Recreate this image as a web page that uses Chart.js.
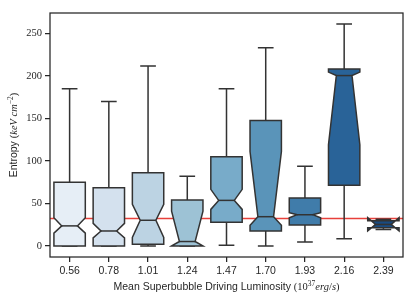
<!DOCTYPE html>
<html>
<head>
<meta charset="utf-8">
<script src="https://cdn.jsdelivr.net/npm/chart.js@4/dist/chart.umd.min.js"></script>
<style>
  html, body { margin: 0; padding: 0; background: #fff; }
  #wrap { width: 416px; height: 301px; }
</style>
</head>
<body>
<div id="wrap"><canvas id="entropyChart" width="416" height="301"></canvas></div>
<script>
// Mean superbubble driving luminosity bins (10^37 erg/s)
const luminosity = ["0.56", "0.78", "1.01", "1.24", "1.47", "1.70", "1.93", "2.16", "2.39"];

// box plot stats per bin (entropy, keV cm^-2)
const whiskerLow  = [0,     0,     0,     0,    0.8,   0,     4.7,   8.6,   19.4];
const q1          = [0,     0,     2,     0,    28,    17.6,  24.6,  71.5,  21.5];
const notchLow    = [15,    9.5,   10,    0,    43,    24.3,  33.2,  119,   17.6];
const median      = [23.6,  17.6,  30.2,  5.2,  53.6,  34.4,  36.7,  200.4, 25.3];
const notchHigh   = [33.2,  26.6,  49,    41,   66.6,  111,   39.1,  204.5, 33.2];
const q3          = [75,    68.4,  86,    53.9, 104.8, 147.7, 56.3,  208.2, 29.6];
const whiskerHigh = [184.8, 169.9, 211.7, 82,   184.8, 233.2, 93.8,  261,   31.4];

const referenceEntropy = 32.4;
const yTicks = [0, 50, 100, 150, 200, 250];
const yMin = -13;
const yMax = 274;

// seaborn "Blues" (desaturated)
const boxColors = ["#e6eef6", "#d4e1ee", "#bcd3e3", "#9dc2d5", "#78abc9",
                   "#5a94b9", "#407caa", "#296398", "#194b81"];
const edgeColor = "#333333";
const inkColor = "#262626";

const sans = "'Liberation Sans', Arial, sans-serif";
const serif = "'Liberation Serif', 'Times New Roman', serif";

function drawRich(ctx, parts, x0, y0) {
    let w = 0;
    parts.forEach(p => { ctx.font = p.font; w += ctx.measureText(p.t).width; });
    let x = x0 - w / 2;
    parts.forEach(p => {
        ctx.font = p.font;
        ctx.fillText(p.t, x, y0 + (p.dy || 0));
        x += ctx.measureText(p.t).width;
    });
}

const notchedBoxes = {
    id: "notchedBoxes",
    beforeDatasetsDraw(chart) {
        const { ctx, chartArea: a, scales: { y } } = chart;
        const py = y.getPixelForValue(referenceEntropy);
        ctx.save();
        ctx.strokeStyle = "#e8403b";
        ctx.lineWidth = 1.5;
        ctx.beginPath();
        ctx.moveTo(a.left, py);
        ctx.lineTo(a.right, py);
        ctx.stroke();
        ctx.restore();
    },
    afterDatasetsDraw(chart) {
        const { ctx, scales: { x, y } } = chart;
        const half = 0.4 * (x.getPixelForValue(1) - x.getPixelForValue(0));
        const Y = v => y.getPixelForValue(v);
        ctx.save();
        ctx.lineWidth = 1.5;
        ctx.strokeStyle = edgeColor;
        ctx.lineJoin = "miter";
        luminosity.forEach((lbl, i) => {
            const cx = x.getPixelForValue(i);
            const l = cx - half, r = cx + half;
            const nl = cx - half / 2, nr = cx + half / 2;

            // whiskers + caps
            ctx.beginPath();
            ctx.moveTo(cx, Y(q3[i]));
            ctx.lineTo(cx, Y(whiskerHigh[i]));
            ctx.moveTo(cx, Y(q1[i]));
            ctx.lineTo(cx, Y(whiskerLow[i]));
            ctx.moveTo(nl, Y(whiskerHigh[i]));
            ctx.lineTo(nr, Y(whiskerHigh[i]));
            ctx.moveTo(nl, Y(whiskerLow[i]));
            ctx.lineTo(nr, Y(whiskerLow[i]));
            ctx.stroke();

            // notched box
            ctx.beginPath();
            ctx.moveTo(l, Y(q1[i]));
            ctx.lineTo(l, Y(notchLow[i]));
            ctx.lineTo(nl, Y(median[i]));
            ctx.lineTo(l, Y(notchHigh[i]));
            ctx.lineTo(l, Y(q3[i]));
            ctx.lineTo(r, Y(q3[i]));
            ctx.lineTo(r, Y(notchHigh[i]));
            ctx.lineTo(nr, Y(median[i]));
            ctx.lineTo(r, Y(notchLow[i]));
            ctx.lineTo(r, Y(q1[i]));
            ctx.closePath();
            ctx.fillStyle = boxColors[i];
            ctx.fill();
            ctx.stroke();

            // median
            ctx.beginPath();
            ctx.moveTo(nl, Y(median[i]));
            ctx.lineTo(nr, Y(median[i]));
            ctx.stroke();
        });
        ctx.restore();
    },
    afterDraw(chart) {
        const { ctx, chartArea: a } = chart;
        ctx.save();
        // frame
        ctx.strokeStyle = inkColor;
        ctx.lineWidth = 1.25;
        ctx.strokeRect(a.left, a.top, a.right - a.left, a.bottom - a.top);

        // axis titles
        ctx.fillStyle = inkColor;
        ctx.textBaseline = "alphabetic";
        drawRich(ctx, [
            { t: "Mean Superbubble Driving Luminosity ", font: "10.5px " + sans },
            { t: "(10", font: "10.5px " + serif },
            { t: "37", font: "7.5px " + serif, dy: -4 },
            { t: "erg", font: "italic 10.5px " + serif },
            { t: "/", font: "10.5px " + serif },
            { t: "s", font: "italic 10.5px " + serif },
            { t: ")", font: "10.5px " + serif }
        ], (a.left + a.right) / 2, 290);

        ctx.translate(16.5, 135);
        ctx.rotate(-Math.PI / 2);
        drawRich(ctx, [
            { t: "Entropy ", font: "10.5px " + sans },
            { t: "(", font: "10.5px " + serif },
            { t: "keV", font: "italic 10.5px " + serif },
            { t: " ", font: "10.5px " + serif },
            { t: "cm", font: "italic 10.5px " + serif },
            { t: "\u22122", font: "7.5px " + serif, dy: -4 },
            { t: ")", font: "10.5px " + serif }
        ], 0, 0);
        ctx.restore();
    }
};

new Chart(document.getElementById("entropyChart").getContext("2d"), {
    type: "bar",
    data: {
        labels: luminosity,
        datasets: [
            {
                label: "Entropy",
                data: luminosity.map((_, i) => [q1[i], q3[i]]),
                backgroundColor: "rgba(0,0,0,0)",
                borderWidth: 0,
            },
        ],
    },
    options: {
        responsive: false,
        animation: false,
        devicePixelRatio: 1,
        layout: { padding: { top: 13, right: 13, left: 0, bottom: 0 } },
        plugins: {
            legend: { display: false },
            tooltip: { enabled: false },
        },
        scales: {
            x: {
                type: "category",
                offset: true,
                border: { display: false },
                grid: {
                    offset: false,
                    drawOnChartArea: false,
                    tickLength: 5,
                    color: inkColor,
                    lineWidth: 1.25,
                },
                ticks: {
                    padding: 3,
                    color: inkColor,
                    font: { family: sans, size: 10.5 },
                    maxRotation: 0,
                },
                afterFit(scale) { scale.height = 44; },
            },
            y: {
                min: yMin,
                max: yMax,
                border: { display: false },
                grid: {
                    drawOnChartArea: false,
                    tickLength: 5,
                    color: inkColor,
                    lineWidth: 1.25,
                },
                ticks: {
                    padding: 3,
                    color: inkColor,
                    font: { family: serif, size: 10.5 },
                },
                afterBuildTicks(scale) {
                    scale.ticks = yTicks.map(v => ({ value: v }));
                },
                afterFit(scale) { scale.width = 50; },
            },
        },
    },
    plugins: [notchedBoxes],
});
</script>
</body>
</html>
